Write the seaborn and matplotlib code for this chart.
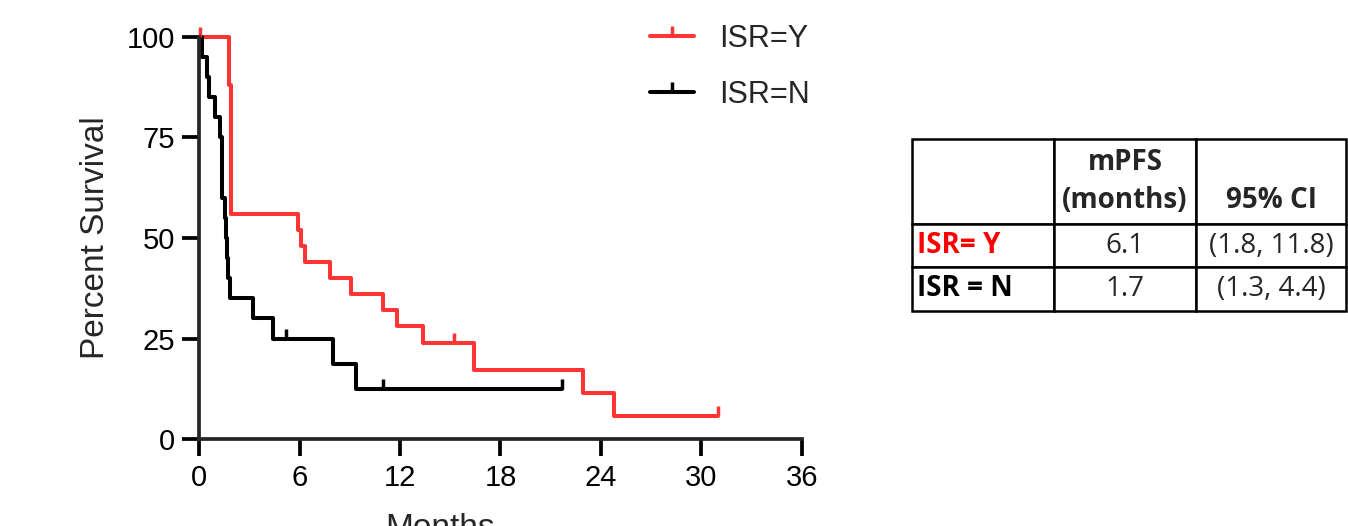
import numpy as np
import pandas as pd
import seaborn as sns
import matplotlib.pyplot as plt
from matplotlib.lines import Line2D
from matplotlib.table import Table

# KM curve for ISR=Y (months, percent survival after each step)
time_y = [0, 1.8, 1.9, 5.9, 6.1, 6.3, 7.8, 9.1, 11.0, 11.8, 13.4, 16.4, 22.9, 24.8, 31.0]
surv_y = [100, 88, 56, 52, 48, 44, 40, 36, 32, 28, 24, 17.2, 11.5, 5.7, 5.7]
cens_time_y = [0.05, 15.2, 31.0]
cens_surv_y = [100, 24, 5.7]

# KM curve for ISR=N
time_n = [0, 0.16, 0.46, 0.62, 0.96, 1.25, 1.35, 1.37, 1.39, 1.55, 1.6, 1.65, 1.75, 1.88,
          3.2, 4.4, 8.0, 9.4, 21.7]
surv_n = [100, 95, 90, 85, 80, 75, 70, 65, 60, 55, 50, 45, 40, 35, 30, 25, 18.75, 12.5, 12.5]
cens_time_n = [5.2, 11.0, 21.7]
cens_surv_n = [25, 12.5, 12.5]

groups = ['ISR=Y', 'ISR=N']
colors = {'ISR=Y': '#ff3535', 'ISR=N': '#000000'}

x_ticks = [0, 6, 12, 18, 24, 30, 36]
y_ticks = [0, 25, 50, 75, 100]

# table contents
table_header = ['', 'mPFS\n(months)', '\n95% CI']
table_rows = [['ISR= Y', '6.1', '(1.8, 11.8)'],
              ['ISR = N', '1.7', '(1.3, 4.4)']]
row_label_colors = ['#ff0000', '#000000']

df = pd.concat([
    pd.DataFrame({'t': time_y, 's': surv_y, 'group': 'ISR=Y'}),
    pd.DataFrame({'t': time_n, 's': surv_n, 'group': 'ISR=N'}),
])

sns.set_style('ticks')
plt.rcParams['font.family'] = ['Liberation Sans', 'DejaVu Sans']

W, H = 1348, 526
fig = plt.figure(figsize=(W / 100, H / 100), dpi=100)
ax = fig.add_axes([199 / W, 1 - 439 / H, 603 / W, 402 / H])

sns.lineplot(data=df, x='t', y='s', hue='group', hue_order=groups, palette=colors,
             drawstyle='steps-post', estimator=None, sort=False, legend=False,
             linewidth=2.9, clip_on=False, ax=ax)

mk = dict(linestyle='none', marker=2, markersize=7, markeredgewidth=2.5, clip_on=False)
ax.plot(cens_time_y, cens_surv_y, color=colors['ISR=Y'], **mk)
ax.plot(cens_time_n, cens_surv_n, color=colors['ISR=N'], **mk)

ax.set_xlim(0, 36)
ax.set_ylim(0, 100)
ax.set_xticks(x_ticks)
ax.set_yticks(y_ticks)
sns.despine(ax=ax)
for sp in ['left', 'bottom']:
    ax.spines[sp].set_linewidth(2.7)
ax.tick_params(axis='both', width=2.7, length=12, labelsize=21, colors='black')
ax.tick_params(axis='y', pad=5)
ax.tick_params(axis='x', pad=6)

ax.set_ylabel('Percent Survival', fontsize=24)
ax.yaxis.set_label_coords(-0.146, 0.5)
ax.set_xlabel('Months', fontsize=24)
ax.xaxis.set_label_coords(0.40, -0.185)

handles = [Line2D([], [], color=colors[g], lw=2.9, marker=2, markersize=7,
                  markeredgewidth=2.5) for g in groups]
fig.legend(handles, groups, loc='upper left', bbox_to_anchor=(650 / W, 1 - 24 / H),
           frameon=False, borderpad=0, borderaxespad=0, numpoints=1,
           handlelength=1.45, handletextpad=0.8, labelspacing=0.85, fontsize=22)

# table on the right
tax = fig.add_axes([912 / W, 1 - 311 / H, (1346 - 912) / W, (311 - 139) / H])
tax.axis('off')
tbl = Table(tax, bbox=[0, 0, 1, 1])
col_w = [142, 142, 150]
row_h = [85, 42, 44]
tfont = ['Open Sans', 'DejaVu Sans']
for j, txt in enumerate(table_header):
    c = tbl.add_cell(0, j, col_w[j], row_h[0], text=txt, loc='center')
    c.get_text().set_fontweight('bold')
for i, row in enumerate(table_rows):
    for j, txt in enumerate(row):
        c = tbl.add_cell(i + 1, j, col_w[j], row_h[i + 1], text=txt,
                         loc='left' if j == 0 else 'center')
        if j == 0:
            c.PAD = 0.035
            c.get_text().set_fontweight('bold')
            c.get_text().set_color(row_label_colors[i])
tbl.auto_set_font_size(False)
for cell in tbl.get_celld().values():
    cell.set_linewidth(1.8)
    cell.set_edgecolor('black')
    cell.get_text().set_fontsize(20)
    cell.get_text().set_family(tfont)
    cell.get_text().set_linespacing(1.4)
tax.add_table(tbl)

fig.savefig('out.png', dpi=100)
